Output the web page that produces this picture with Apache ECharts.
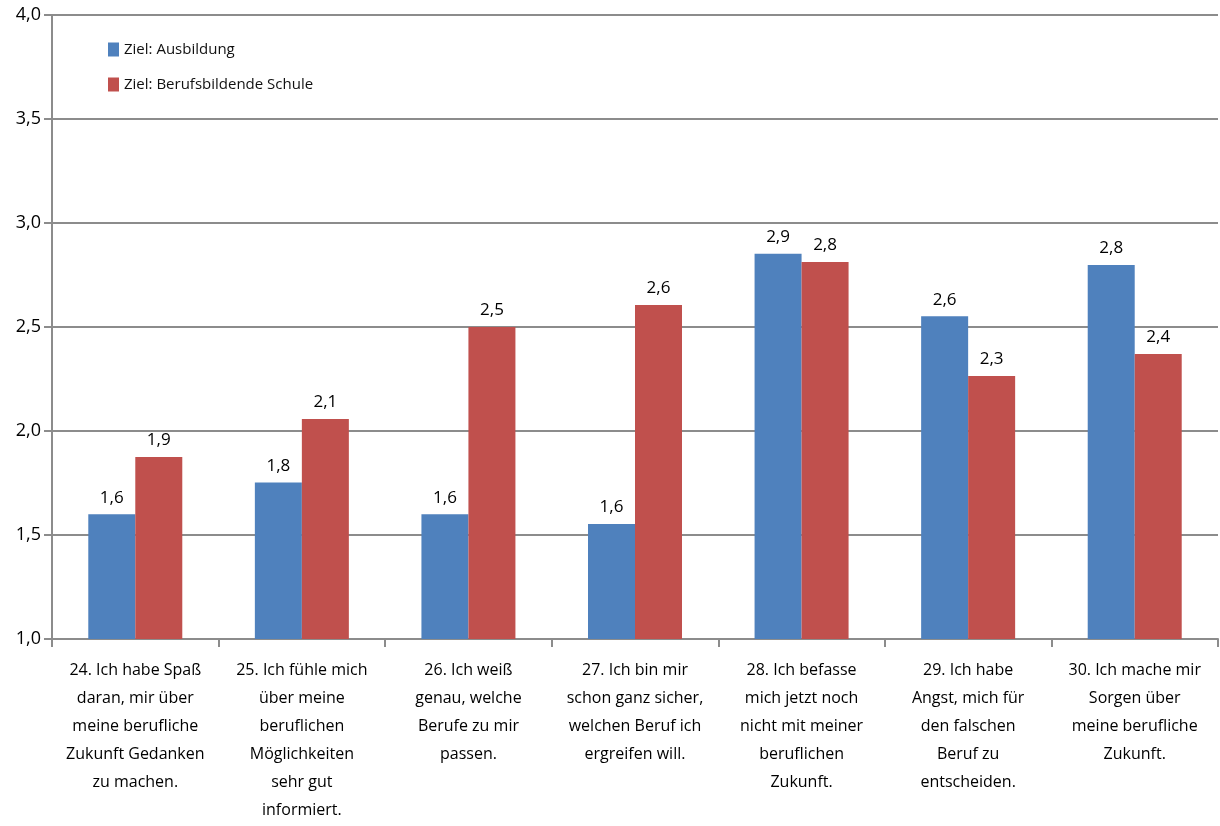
<!DOCTYPE html>
<html>
<head>
<meta charset="utf-8">
<title>Ziel: Ausbildung vs. Berufsbildende Schule</title>
<script src="https://cdn.jsdelivr.net/npm/echarts@6/dist/echarts.min.js"></script>
<style>
  html, body { margin: 0; padding: 0; background: #fff; }
  #chart { width: 1220px; height: 826px; }
</style>
</head>
<body>
<div id="chart"></div>
<script>
// Kategorien (Aussagen 24-30)
const categories = [
  '24. Ich habe Spaß\ndaran, mir über\nmeine berufliche\nZukunft Gedanken\nzu machen.',
  '25. Ich fühle mich\nüber meine\nberuflichen\nMöglichkeiten\nsehr gut\ninformiert.',
  '26. Ich weiß\ngenau, welche\nBerufe zu mir\npassen.',
  '27. Ich bin mir\nschon ganz sicher,\nwelchen Beruf ich\nergreifen will.',
  '28. Ich befasse\nmich jetzt noch\nnicht mit meiner\nberuflichen\nZukunft.',
  '29. Ich habe\nAngst, mich für\nden falschen\nBeruf zu\nentscheiden.',
  '30. Ich mache mir\nSorgen über\nmeine berufliche\nZukunft.'
]

const seriesNames = ['Ziel: Ausbildung', 'Ziel: Berufsbildende Schule']

// Mittelwerte
const ausbildung = [1.60, 1.752, 1.60, 1.553, 2.852, 2.552, 2.798]
const schule = [1.875, 2.058, 2.50, 2.606, 2.8125, 2.264, 2.37]

const yTicks = { min: 1.0, max: 4.0, interval: 0.5 }

const fontFamily = '"Open Sans", "Noto Sans", sans-serif'
const deComma = (v, d) => v.toFixed(d).replace('.', ',')

const chart = echarts.init(document.getElementById('chart'))

const labelStyle = {
  show: true,
  position: 'top',
  distance: 8,
  fontSize: 17,
  fontFamily: fontFamily,
  color: '#000',
  formatter: p => deComma(p.value, 1)
}

chart.setOption({
  animation: false,
  textStyle: { fontFamily: fontFamily },
  grid: { left: 52, right: 2, top: 15, bottom: 187 },
  legend: {
    orient: 'vertical',
    left: 103,
    top: 37,
    itemWidth: 11,
    itemHeight: 14,
    itemGap: 20,
    icon: 'rect',
    textStyle: { fontSize: 15, color: '#111', fontFamily: fontFamily },
    data: seriesNames
  },
  xAxis: {
    type: 'category',
    data: categories,
    axisLine: { lineStyle: { color: '#8c8c8c', width: 2 } },
    axisTick: { show: true, length: 8, lineStyle: { color: '#8c8c8c', width: 2 } },
    axisLabel: {
      interval: 0,
      margin: 17,
      fontSize: 16,
      lineHeight: 28,
      color: '#000',
      align: 'center'
    }
  },
  yAxis: {
    type: 'value',
    min: yTicks.min,
    max: yTicks.max,
    interval: yTicks.interval,
    axisLine: { show: true, lineStyle: { color: '#8c8c8c', width: 2 } },
    axisTick: { show: true, length: 8, lineStyle: { color: '#8c8c8c', width: 2 } },
    splitLine: { lineStyle: { color: '#8c8c8c', width: 2 } },
    axisLabel: {
      margin: 11,
      fontSize: 18,
      color: '#000',
      formatter: v => deComma(v, 1)
    }
  },
  series: [
    {
      name: seriesNames[0],
      type: 'bar',
      data: ausbildung,
      barWidth: 47,
      barGap: '0%',
      itemStyle: { color: '#4f81bd' },
      label: labelStyle
    },
    {
      name: seriesNames[1],
      type: 'bar',
      data: schule,
      barWidth: 47,
      barGap: '0%',
      itemStyle: { color: '#c0504d' },
      label: labelStyle
    }
  ]
})
</script>
</body>
</html>
